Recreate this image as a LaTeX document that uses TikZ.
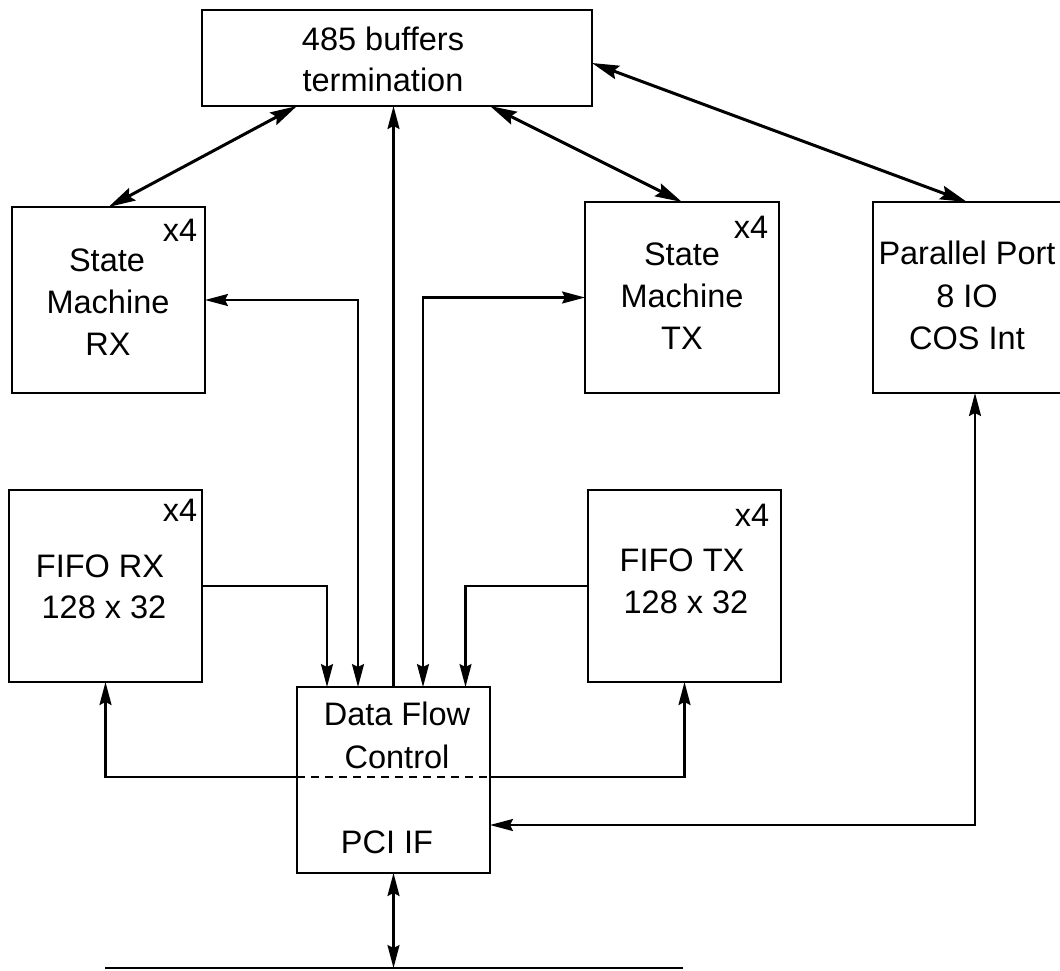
\documentclass[tikz,border=0pt]{standalone}
\usepackage{fontspec}
\setmainfont{Liberation Sans}
\usetikzlibrary{arrows.meta}
\begin{document}
\begin{tikzpicture}[x=1pt,y=-1pt,
  box/.style={draw, line width=2.6pt, inner sep=0pt, outer sep=0pt, anchor=north west},
  txt/.style={anchor=base, inner sep=0pt, font=\fontsize{32.5}{40}\selectfont},
  conn/.style={line width=2.1pt, >={Stealth[length=23pt,width=12pt,inset=3pt]}},
  diag/.style={line width=3pt, >={Stealth[length=27pt,width=14pt,inset=4pt]}}]
\useasboundingbox (0,0) rectangle (1060,970);
% boxes
\node[box, minimum width=390pt, minimum height=96pt] (top) at (202,10) {};
\node[box, minimum width=193pt, minimum height=186pt] (smrx) at (12,207) {};
\node[box, minimum width=194pt, minimum height=191pt] (smtx) at (585,202) {};
\node[box, minimum width=188pt, minimum height=191pt] (pp) at (873,202) {};
\node[box, minimum width=193pt, minimum height=192pt] (fiforx) at (9,490) {};
\node[box, minimum width=193pt, minimum height=192pt] (fifotx) at (588,490) {};
\node[box, minimum width=193pt, minimum height=186pt] (dfc) at (297,687) {};
% texts
\node[txt] (t1) at (383,50) {485 buffers};
\node[txt] (t2) at (383,91) {termination};
\node[txt] (rx1) at (107,271) {State};
\node[txt] (rx2) at (108,313) {Machine};
\node[txt] (rx3) at (108,355) {RX};
\node[txt] (rx4) at (180,241) {x4};
\node[txt] (tx1) at (682,265) {State};
\node[txt] (tx2) at (682,307) {Machine};
\node[txt] (tx3) at (682,349) {TX};
\node[txt] (tx4) at (751,238) {x4};
\node[txt] (pp1) at (967,264) {Parallel Port};
\node[txt] (pp2) at (967,307) {8 IO};
\node[txt] (pp3) at (967,349) {COS Int};
\node[txt] (fr1) at (100,577) {FIFO RX};
\node[txt] (fr2) at (104,618) {128 x 32};
\node[txt] (fr4) at (180,521) {x4};
\node[txt] (ft1) at (682,571) {FIFO TX};
\node[txt] (ft2) at (686,613) {128 x 32};
\node[txt] (ft4) at (752,526) {x4};
\node[txt] (d1) at (397,725) {Data Flow};
\node[txt] (d2) at (397,768) {Control};
\node[txt] (d3) at (387,853) {PCI IF};
% connectors
\draw[diag,<->] ([xshift=-100pt]top.south) -- (smrx.north);
\draw[diag,<->] ([xshift=93pt]top.south) -- (smtx.north);
\draw[diag,<->] ([yshift=-5pt]top.east) -- (pp.north);
\draw[conn,->] (dfc.north) -- (dfc.north |- top.south);
\draw[conn,<->] (smrx.east) -| ([xshift=-35.5pt]dfc.north);
\draw[conn,<->] (smtx.west) -| ([xshift=29.5pt]dfc.north);
\draw[conn,->] (fiforx.east) -| ([xshift=-66.5pt]dfc.north);
\draw[conn,->] (fifotx.west) -| ([xshift=72pt]dfc.north);
\draw[conn, dash pattern=on 8pt off 6pt] ([yshift=3pt]dfc.west) -- ([yshift=3pt]dfc.east);
\draw[conn,->] ([yshift=3pt]dfc.west) -| (fiforx.south);
\draw[conn,->] ([yshift=3pt]dfc.east) -| (fifotx.south);
\draw[conn,<->] ([xshift=8pt]pp.south) |- ([yshift=-45pt]dfc.east);
\coordinate (busL) at (105,968);
\coordinate (busR) at (683,968);
\draw[conn] (busL) -- (busR);
\draw[conn,<->] (dfc.south) -- (dfc.south |- busL);
\end{tikzpicture}
\end{document}
